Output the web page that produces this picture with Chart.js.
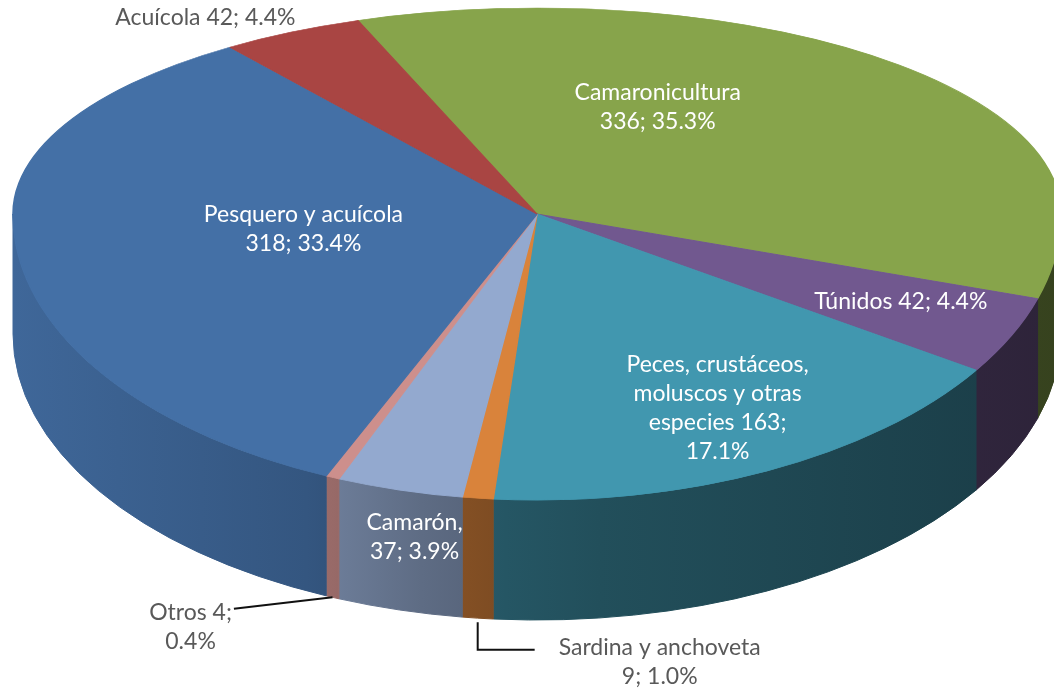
<!DOCTYPE html>
<html>
<head>
<meta charset="utf-8">
<script src="https://cdn.jsdelivr.net/npm/chart.js@4.4.0/dist/chart.umd.min.js"></script>
<style>
  html, body { margin: 0; padding: 0; background: #fff; }
  #wrap { width: 1054px; height: 689px; }
</style>
</head>
<body>
<div id="wrap"><canvas id="pie"></canvas></div>
<script>
// values
const categories = ['Camaronicultura', 'Túnidos', 'Peces, crustáceos, moluscos y otras especies',
  'Sardina y anchoveta', 'Camarón', 'Otros', 'Pesquero y acuícola', 'Acuícola'];
const values = [336, 42, 163, 9, 37, 4, 318, 42];
const percents = ['35.3%', '4.4%', '17.1%', '1.0%', '3.9%', '0.4%', '33.4%', '4.4%'];
const colors = ['#87A44B', '#71588F', '#4197AF', '#D9833B', '#93A9CF', '#CD8F8C', '#4470A6', '#A94543'];

// how each label is broken into lines
const labelLines = [
  ['Camaronicultura', `${values[0]}; ${percents[0]}`],
  [`Túnidos ${values[1]}; ${percents[1]}`],
  ['Peces, crustáceos,', 'moluscos y otras', `especies ${values[2]};`, percents[2]],
  ['Sardina y anchoveta', `${values[3]}; ${percents[3]}`],
  ['Camarón,', `${values[4]}; ${percents[4]}`],
  [`Otros ${values[5]};`, percents[5]],
  ['Pesquero y acuícola', `${values[6]}; ${percents[6]}`],
  [`Acuícola ${values[7]}; ${percents[7]}`]
];

// 3d look: top face is squashed more at the back than at the front (fake perspective)
const CX = 537, CY = 214, RX = 524, RY_BACK = 206, RY_FRONT = 286, DEPTH = 120;
const W = 1054, H = 689;
const FONT = '23px Lato';
const LINE_H = 29;

// label placement: fraction of radius along the mid angle (side = on the bottom rim) plus a nudge
const labelPlace = [
  { f: 0.55, dx: -78, dy: -25, color: '#fff' },
  { f: 0.75, dx: 8, dy: -4, color: '#fff' },
  { f: 0.55, dx: 54, dy: 53, color: '#fff' },
  { f: 1, side: true, dx: 182, dy: 44, color: '#595959', leader: 'elbow' },
  { f: 1, dx: 15, dy: 47, color: '#fff' },
  { f: 1, side: true, dx: -142, dy: 30, color: '#595959', leader: 'straight' },
  { f: 0.55, dx: 53, dy: -2, color: '#fff' },
  { f: 1, dx: -86, dy: -14, color: '#595959' }
];

// side wall shading, darker to the right
const shadeStops = [[0, 0.92], [0.28, 0.77], [0.39, 0.64], [0.47, 0.57], [0.56, 0.52], [1, 0.4]];

function shade(hex, f) {
  const n = parseInt(hex.slice(1), 16);
  const r = Math.round(((n >> 16) & 255) * f);
  const g = Math.round(((n >> 8) & 255) * f);
  const b = Math.round((n & 255) * f);
  return `rgb(${r},${g},${b})`;
}

function ellipsePoint(t, f) {
  const ry = Math.sin(t) < 0 ? RY_BACK : RY_FRONT;
  return { x: CX + RX * f * Math.cos(t), y: CY + ry * f * Math.sin(t) };
}

function squash(ctx, arc, ry) {
  const R = arc.outerRadius;
  ctx.translate(CX, CY);
  ctx.scale(RX / R, ry / R);
  ctx.translate(-arc.x, -arc.y);
}

const pie3d = {
  id: 'pie3d',
  beforeDatasetsDraw(chart) {
    const ctx = chart.ctx;
    const arcs = chart.getDatasetMeta(0).data;
    arcs.forEach((arc, i) => {
      const s = arc.startAngle, e = arc.endAngle;
      for (let k = -1; k <= 1; k++) {
        const lo = Math.max(s, 2 * Math.PI * k);
        const hi = Math.min(e, 2 * Math.PI * k + Math.PI);
        if (hi <= lo) continue;
        const g = ctx.createLinearGradient(CX - RX, 0, CX + RX, 0);
        shadeStops.forEach(([p, f]) => g.addColorStop(p, shade(colors[i], f)));
        ctx.save();
        ctx.beginPath();
        ctx.ellipse(CX, CY, RX, RY_FRONT, 0, lo, hi);
        ctx.ellipse(CX, CY + DEPTH, RX, RY_FRONT, 0, hi, lo, true);
        ctx.closePath();
        ctx.fillStyle = g;
        ctx.fill();
        ctx.strokeStyle = g;
        ctx.lineWidth = 1;
        ctx.stroke();
        ctx.restore();
      }
    });
  },
  // back half of the top face
  beforeDatasetDraw(chart) {
    const ctx = chart.ctx;
    ctx.save();
    ctx.beginPath();
    ctx.rect(0, 0, W, CY + 1);
    ctx.clip();
    squash(ctx, chart.getDatasetMeta(0).data[0], RY_BACK);
  },
  // front half of the top face
  afterDatasetDraw(chart, args) {
    const ctx = chart.ctx;
    ctx.restore();
    ctx.save();
    ctx.beginPath();
    ctx.rect(0, CY, W, H - CY);
    ctx.clip();
    squash(ctx, args.meta.data[0], RY_FRONT);
    args.meta.controller.draw();
    ctx.restore();
  },
  afterDatasetsDraw(chart) {
    const ctx = chart.ctx;
    const arcs = chart.getDatasetMeta(0).data;
    ctx.save();
    ctx.font = FONT;
    ctx.textAlign = 'center';
    ctx.textBaseline = 'middle';
    arcs.forEach((arc, i) => {
      const p = labelPlace[i];
      const mid = (arc.startAngle + arc.endAngle) / 2;
      const a = ellipsePoint(mid, p.f);
      if (p.side) a.y += DEPTH;
      const lines = labelLines[i];
      const x = a.x + p.dx;
      const y0 = a.y + p.dy - (lines.length - 1) * LINE_H / 2;

      if (p.leader) {
        const w = ctx.measureText(lines[0]).width;
        ctx.strokeStyle = '#111';
        ctx.lineWidth = 2;
        ctx.beginPath();
        if (p.leader === 'straight') {
          ctx.moveTo(x + w / 2 + 2, y0 - 4);
          ctx.lineTo(a.x, a.y);
        } else {
          ctx.moveTo(a.x, a.y + 4);
          ctx.lineTo(a.x, y0 + 2);
          ctx.lineTo(x - w / 2 - 24, y0 + 2);
        }
        ctx.stroke();
      }

      ctx.fillStyle = p.color;
      lines.forEach((ln, j) => ctx.fillText(ln, x, y0 + j * LINE_H));
    });
    ctx.restore();
  }
};

new Chart(document.getElementById('pie'), {
  type: 'pie',
  data: {
    labels: categories,
    datasets: [{
      data: values,
      backgroundColor: colors,
      borderColor: colors,
      borderWidth: 1,
      clip: false
    }]
  },
  options: {
    responsive: true,
    maintainAspectRatio: false,
    animation: false,
    rotation: -20,
    layout: { padding: 0 },
    plugins: {
      legend: { display: false },
      tooltip: { enabled: false }
    }
  },
  plugins: [pie3d]
});
</script>
</body>
</html>
